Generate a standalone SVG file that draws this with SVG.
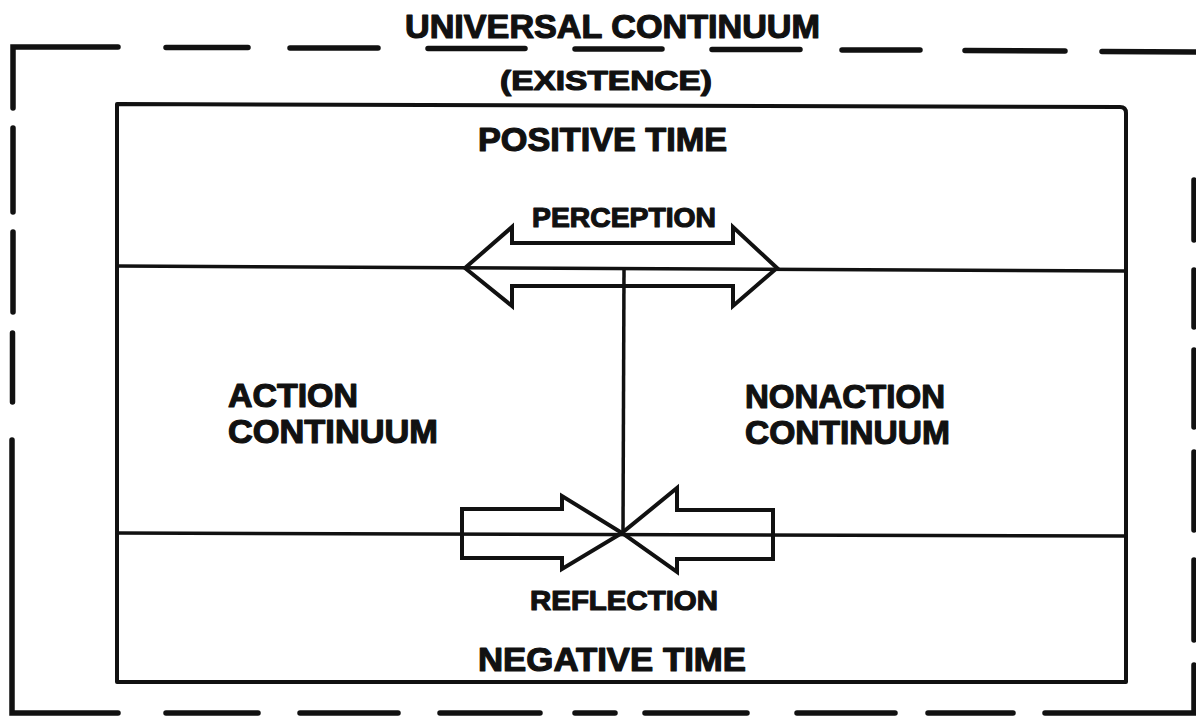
<svg xmlns="http://www.w3.org/2000/svg" width="1196" height="721" viewBox="0 0 1196 721">
  <style>
    .bg { fill: #ffffff; }
    .border { fill: none; stroke: #111; stroke-width: 5.5; stroke-linecap: round; stroke-linejoin: miter; }
    .frame { fill: none; stroke: #111; stroke-width: 4; stroke-linejoin: round; }
    .line { fill: none; stroke: #111; stroke-width: 3.5; }
    .arrow { fill: #ffffff; stroke: #111; stroke-width: 4; stroke-linejoin: miter; }
    .lbl { font-family: "Liberation Sans", Arial, sans-serif; font-weight: bold; fill: #111; stroke: #111; stroke-width: 1.2; stroke-linejoin: round; }
    .big { font-size: 33px; }
    .small { font-size: 28px; }
  </style>
  <rect class="bg" x="0" y="0" width="1196" height="721"/>

  <g id="universal-continuum">
    <path class="border" d="M13,108 L13,47 L118,47 M166,47.5 L248,47.5 M290,48 L378,48 M428,48.5 L525,48.5 M575,49 L662,49 M712,49.5 L800,49.5 M842,50 L920,50 M965,50.5 L1065,51 M1102,51.5 L1196,52
      M13,128 L13,212 M13,232 L13,312 M12.5,333 L12.5,402 M12,440 L12,713 L118,713 M166,713 L258,713 M300,713 L398,713 M440,713 L540,713 M575,713 L615,713 M645,713 L747,713 M797,713 L895,713 M928,713 L1013,713 M1045,713 L1196,713
      M1194,180 L1194,240 M1194,270 L1194,327 M1194,350 L1194,427 M1194,452 L1194,530 M1194,560 L1194,640 M1194,665 L1194,713"/>
    <text class="lbl big" x="405" y="38" textLength="415" lengthAdjust="spacingAndGlyphs">UNIVERSAL CONTINUUM</text>
    <text class="lbl small" x="500" y="90" font-size="30" textLength="212" lengthAdjust="spacingAndGlyphs">(EXISTENCE)</text>
  </g>

  <g id="existence-frame">
    <path class="frame" d="M117,104 L1120,107 Q1126,107 1126,113 L1126,682 L117,682 Z"/>
  </g>

  <g id="positive-time">
    <text class="lbl big" x="478" y="151" textLength="249" lengthAdjust="spacingAndGlyphs">POSITIVE TIME</text>
  </g>

  <g id="negative-time">
    <text class="lbl big" x="478" y="671" textLength="268" lengthAdjust="spacingAndGlyphs">NEGATIVE TIME</text>
  </g>

  <g id="action-continuum">
    <text class="lbl big" x="228" y="407" textLength="130" lengthAdjust="spacingAndGlyphs">ACTION</text>
    <text class="lbl big" x="228" y="443" textLength="210" lengthAdjust="spacingAndGlyphs">CONTINUUM</text>
  </g>

  <g id="nonaction-continuum">
    <text class="lbl big" x="745" y="408" textLength="200" lengthAdjust="spacingAndGlyphs">NONACTION</text>
    <text class="lbl big" x="745" y="444" textLength="205" lengthAdjust="spacingAndGlyphs">CONTINUUM</text>
  </g>

  <g id="perception">
    <path class="arrow" d="M465,268 L512,227 L512,243 L733,243 L733,227 L777,268 L733,306 L733,286 L512,286 L512,306 Z"/>
    <text class="lbl small" x="532" y="227" textLength="184" lengthAdjust="spacingAndGlyphs">PERCEPTION</text>
  </g>

  <g id="reflection">
    <path class="arrow" d="M462,509 L562,509 L562,496 L622,533 L562,569 L562,558 L462,558 Z"/>
    <path class="arrow" d="M773,510 L677,510 L677,488 L622,533 L677,572 L677,559 L773,559 Z"/>
    <text class="lbl small" x="530" y="610" textLength="188" lengthAdjust="spacingAndGlyphs">REFLECTION</text>
  </g>

  <g id="connectors">
    <line class="line" x1="117" y1="266" x2="1126" y2="271"/>
    <line class="line" x1="117" y1="533" x2="1126" y2="536"/>
    <line class="line" x1="624" y1="269" x2="623" y2="533"/>
  </g>
</svg>
